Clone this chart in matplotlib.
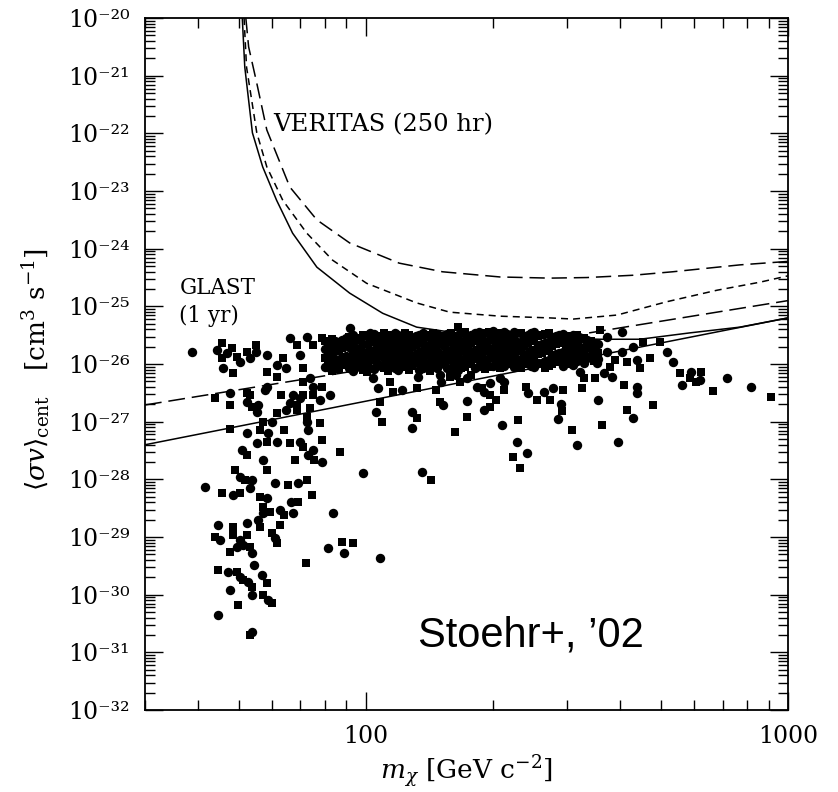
import matplotlib
matplotlib.use("Agg")
import matplotlib.pyplot as plt
import matplotlib.ticker as mticker
import numpy as np

plt.rcParams['font.family'] = 'DejaVu Serif'
plt.rcParams['mathtext.fontset'] = 'dejavuserif'

# --- sensitivity curves: mass [GeV], log10 <sigma v> [cm^3 s^-1] ---
ver_long_m = [52.0, 52.8, 55.2, 58.3, 66.1, 76.6, 91.6, 120, 152, 208, 273, 334, 430, 533, 770, 1000]
ver_long_lsv = [-20.0, -20.5, -21.13, -21.94, -22.93, -23.50, -23.90, -24.25, -24.40, -24.49, -24.51,
                -24.50, -24.46, -24.40, -24.28, -24.22]

ver_short_m = [51.5, 52.2, 55.2, 58.3, 63.6, 72.5, 83.5, 100.5, 132, 158, 208, 273, 310, 394, 516, 679, 859, 1000]
ver_short_lsv = [-20.0, -20.85, -21.99, -22.58, -23.16, -23.73, -24.20, -24.60, -24.94, -25.10, -25.17,
                 -25.20, -25.22, -25.15, -24.92, -24.72, -24.58, -24.47]

ver_solid_m = [51.0, 51.7, 53.9, 57.0, 61.5, 67.1, 76.6, 91.6, 109.7, 132, 160, 208, 273, 359, 446, 585, 769, 1000]
ver_solid_lsv = [-20.0, -20.85, -21.99, -22.58, -23.16, -23.73, -24.32, -24.77, -25.12, -25.36, -25.45,
                 -25.52, -25.55, -25.57, -25.57, -25.46, -25.36, -25.20]

glast_m = [30, 1000]
glast_dash_lsv = [-26.71, -24.90]
glast_solid_lsv = [-27.40, -25.20]

# --- subhalo points: (mass, log10 <sigma v>) ---
band_cols = {
    80.0: [-25.60, -25.74, -25.90, -26.05],
    83.0: [-25.56, -25.70, -25.83, -26.00, -26.12],
    86.3: [-25.62, -25.78, -25.95, -26.08],
    89.6: [-25.55, -25.68, -25.86, -26.02],
    93.1: [-25.50, -25.64, -25.80, -25.97, -26.12],
    96.8: [-25.58, -25.73, -25.90, -26.05],
    100.5: [-25.52, -25.66, -25.84, -26.00, -26.13],
    104.5: [-25.48, -25.62, -25.77, -25.93, -26.08],
    108.5: [-25.55, -25.70, -25.86, -26.03],
    112.8: [-25.50, -25.64, -25.80, -25.96, -26.12],
    117.2: [-25.47, -25.60, -25.75, -25.91, -26.06],
    121.7: [-25.53, -25.68, -25.84, -26.00],
    126.4: [-25.49, -25.63, -25.78, -25.95, -26.10],
    131.4: [-25.52, -25.67, -25.82, -25.99],
    136.5: [-25.46, -25.60, -25.76, -25.92, -26.07],
    141.8: [-25.50, -25.65, -25.81, -25.97, -26.12],
    147.3: [-25.48, -25.62, -25.78, -25.94, -26.06],
    153.0: [-25.52, -25.68, -25.84, -26.00],
    159.0: [-25.46, -25.61, -25.77, -25.93, -26.09],
    165.0: [-25.50, -25.65, -25.80, -25.96, -26.10],
    172.0: [-25.45, -25.58, -25.74, -25.90, -26.05],
    178.0: [-25.49, -25.64, -25.80, -25.97],
    185.0: [-25.44, -25.58, -25.73, -25.89, -26.04],
    192.0: [-25.47, -25.62, -25.78, -25.95, -26.08],
    200.0: [-25.43, -25.57, -25.72, -25.88, -26.03],
    208.0: [-25.46, -25.61, -25.77, -25.93, -26.07],
    216.0: [-25.48, -25.63, -25.79, -25.95],
    224.0: [-25.44, -25.59, -25.74, -25.90, -26.05],
    233.0: [-25.47, -25.62, -25.78, -25.94, -26.06],
    242.0: [-25.49, -25.64, -25.80, -25.97],
    251.0: [-25.45, -25.60, -25.76, -25.92, -26.05],
    261.0: [-25.50, -25.65, -25.81, -25.98],
    271.0: [-25.47, -25.62, -25.77, -25.93, -26.04],
    282.0: [-25.51, -25.66, -25.82, -25.97],
    293.0: [-25.48, -25.63, -25.79, -25.94, -26.03],
    304.0: [-25.52, -25.67, -25.83, -25.98],
    316.0: [-25.50, -25.65, -25.80, -25.95],
    328.0: [-25.55, -25.70, -25.86, -25.99],
    341.0: [-25.60, -25.74, -25.88],
    354.0: [-25.65, -25.80, -25.92],
}

band_cols_b = {
    81.5: [-25.65, -25.82, -25.97],
    84.6: [-25.60, -25.76, -25.91, -26.06],
    88.0: [-25.58, -25.72, -25.88],
    91.3: [-25.53, -25.70, -25.93, -26.07],
    95.0: [-25.55, -25.72, -25.86, -26.02],
    98.6: [-25.50, -25.66, -25.80, -25.96, -26.10],
    102.5: [-25.47, -25.58, -25.75, -25.92, -26.06],
    106.5: [-25.52, -25.67, -25.82, -25.98],
    110.6: [-25.46, -25.60, -25.76, -25.90, -26.07],
    115.0: [-25.54, -25.70, -25.86, -26.02],
    119.4: [-25.50, -25.66, -25.80, -25.97, -26.10],
    124.0: [-25.46, -25.60, -25.74, -25.90, -26.05],
    128.9: [-25.55, -25.71, -25.86, -26.03],
    133.9: [-25.49, -25.64, -25.79, -25.96, -26.11],
    139.1: [-25.53, -25.69, -25.85, -26.01],
    144.5: [-25.46, -25.58, -25.74, -25.90, -26.05],
    150.1: [-25.51, -25.66, -25.82, -25.98],
    156.0: [-25.48, -25.60, -25.75, -25.91, -26.06],
    162.0: [-25.53, -25.69, -25.85, -26.01],
    168.5: [-25.47, -25.62, -25.77, -25.93, -26.07],
    175.0: [-25.52, -25.68, -25.84, -26.00],
    181.5: [-25.46, -25.60, -25.76, -25.92, -26.06],
    188.5: [-25.50, -25.66, -25.82, -25.98],
    196.0: [-25.45, -25.59, -25.74, -25.90, -26.05],
    204.0: [-25.49, -25.65, -25.81, -25.97],
    212.0: [-25.44, -25.58, -25.73, -25.89, -26.04],
    220.0: [-25.51, -25.67, -25.83, -25.99],
    228.5: [-25.47, -25.61, -25.76, -25.92, -26.06],
    237.5: [-25.52, -25.68, -25.84, -26.00],
    246.5: [-25.46, -25.60, -25.75, -25.91, -26.04],
    256.0: [-25.52, -25.67, -25.83, -25.99],
    266.0: [-25.48, -25.63, -25.78, -25.94, -26.06],
    276.5: [-25.53, -25.69, -25.85, -26.00],
    287.5: [-25.49, -25.64, -25.80, -25.95],
    298.5: [-25.54, -25.70, -25.86, -26.00],
    310.0: [-25.50, -25.64, -25.78, -25.92, -26.02],
    322.0: [-25.56, -25.72, -25.88],
    334.5: [-25.58, -25.73, -25.90],
    347.5: [-25.63, -25.78, -25.94],
}

pts_left = [
    (38.7, -25.79), (45.6, -25.64), (44.4, -25.76), (45.6, -25.90), (46.8, -25.81), (48.1, -25.72),
    (46.0, -26.07), (48.4, -26.16), (50.3, -25.97), (49.5, -25.88), (53.1, -25.90), (55.1, -25.67),
    (55.1, -25.79), (52.2, -25.79), (58.4, -25.84), (58.4, -26.14), (61.5, -26.02), (61.8, -26.22),
    (64.9, -26.07), (63.6, -25.90), (66.0, -25.55), (68.6, -25.67), (69.8, -25.84), (71.0, -26.07),
    (73.7, -26.24), (75.0, -25.67), (72.5, -25.53), (78.7, -25.55), (82.2, -26.07), (78.7, -26.40),
    (82.2, -26.54), (71.0, -26.54), (67.1, -26.54), (68.6, -26.71), (58.4, -26.40), (53.1, -26.54),
    (55.7, -26.71), (73.7, -26.76), (72.5, -27.01), (71.0, -26.31), (91.6, -25.38), (108, -26.66),
    (150, -26.19),
]

pts_lower_left = [
    (43.9, -26.59), (47.6, -26.50), (47.6, -26.71), (52.2, -26.66), (53.7, -26.75), (55.4, -26.83),
    (52.2, -26.50), (57.6, -26.45), (63.1, -26.54), (66.0, -26.68), (61.5, -26.85), (64.9, -26.80),
    (68.6, -26.80), (69.8, -26.59), (75.0, -26.54), (77.8, -26.62), (72.5, -26.92), (75.0, -26.40),
    (57.0, -27.01), (59.9, -27.01), (47.6, -27.13), (52.2, -27.20), (56.1, -27.14), (58.6, -27.20),
    (64.2, -27.14), (72.9, -27.14), (77.8, -27.02), (55.4, -27.37), (58.4, -27.35), (61.5, -27.35),
    (66.0, -27.37), (69.8, -27.35), (71.0, -27.44), (75.0, -27.49), (78.7, -27.32), (50.9, -27.49),
    (52.2, -27.58), (57.0, -27.66), (67.9, -27.66), (72.9, -27.58), (75.4, -27.66), (78.7, -27.70),
    (86.8, -27.53), (98.4, -27.89), (48.9, -27.84), (50.3, -27.96), (51.7, -28.01), (53.7, -28.01),
    (58.4, -27.84), (60.9, -28.06), (65.3, -28.10), (69.0, -28.06), (72.5, -28.01), (41.6, -28.13),
    (45.6, -28.24), (48.4, -28.27), (50.3, -28.24), (53.1, -28.15), (56.1, -28.31), (58.4, -28.32),
    (57.0, -28.48), (57.0, -28.58), (59.2, -28.57), (62.5, -28.53), (64.2, -28.62), (66.7, -28.39),
    (69.0, -28.39), (67.1, -28.58), (74.4, -28.27), (83.5, -28.58), (62.5, -28.79), (55.7, -28.70),
    (56.1, -28.83), (44.6, -28.79), (48.4, -28.83), (52.2, -28.76), (43.9, -29.00), (45.1, -29.05),
    (48.4, -28.96), (50.3, -29.05), (52.2, -28.96), (49.5, -29.17), (47.6, -29.26), (51.3, -29.14),
    (53.1, -29.17), (53.7, -29.28), (59.9, -28.93), (60.9, -29.02), (61.8, -29.10), (81.3, -29.19),
    (87.7, -29.09), (89.0, -29.28), (93.1, -29.10), (107.9, -29.36), (72.1, -29.45), (54.5, -29.49),
    (44.6, -29.57), (47.1, -29.61), (49.5, -29.61), (50.3, -29.69), (51.3, -29.75), (52.5, -29.78),
    (53.7, -29.87), (56.8, -29.66), (58.4, -29.80), (53.7, -30.01), (57.0, -30.01), (58.6, -30.09),
    (59.9, -30.14), (47.6, -29.92), (49.8, -30.18), (44.6, -30.35), (53.1, -30.70), (53.7, -30.65),
]

pts_mid = [
    (165, -25.36), (104, -26.24), (114, -26.31), (107, -26.42), (116, -26.49), (122, -26.45),
    (132, -26.42), (133, -26.22), (147, -26.45), (151, -26.31), (158, -26.22), (164, -26.19),
    (167, -26.31), (174, -26.24), (178, -26.19), (183, -26.40), (189, -26.42), (191, -26.49),
    (197, -26.54), (197, -26.33), (204, -26.62), (208, -26.24), (213, -26.45), (213, -26.31),
    (240, -26.40), (242, -26.50), (254, -26.62), (265, -26.49), (273, -26.62), (277, -26.42),
    (293, -26.45), (321, -26.14), (328, -26.24), (106, -26.83), (109, -27.01),
    (129, -26.83), (132, -26.94), (129, -27.11), (150, -26.66), (152, -26.71), (163, -27.18),
    (174, -26.64), (174, -26.92), (191, -26.80), (197, -26.74), (210, -27.06), (229, -26.97),
    (228, -27.35), (223, -27.61), (241, -27.54), (232, -27.80), (286, -26.95), (292, -26.82),
    (290, -26.70), (308, -27.14), (316, -27.40), (325, -26.42), (136, -27.87), (143, -28.01),
]

pts_right = [
    (354, -26.62), (362, -27.06), (395, -27.35), (415, -26.80), (430, -26.94), (478, -26.71),
    (439, -26.50), (664, -26.47), (816, -26.39), (910, -26.57),
    (405, -25.44), (358, -25.41), (373, -25.53), (453, -25.62), (429, -25.71), (497, -25.62),
    (516, -25.79), (471, -25.90), (533, -25.96), (554, -26.16), (588, -26.14), (621, -26.14),
    (618, -26.28), (585, -26.24), (560, -26.36), (607, -26.31), (716, -26.24), (390, -25.93),
    (405, -25.79), (415, -25.96), (439, -25.93), (446, -26.07), (384, -26.22), (410, -26.36),
    (439, -26.40), (350, -26.24), (367, -26.16), (378, -26.05), (352, -25.98), (344, -25.64),
    (373, -25.79),
]

# gather all points
all_pts = [(m, v) for m, vs in band_cols.items() for v in vs]
all_pts += [(m, v) for m, vs in band_cols_b.items() for v in vs]
all_pts += pts_left + pts_lower_left + pts_mid + pts_right
pm = np.array([p[0] for p in all_pts])
pv = 10.0 ** np.array([p[1] for p in all_pts])

fig = plt.figure(figsize=(8.38, 7.92), dpi=100)
ax = fig.add_axes([0.1730, 0.1035, 0.7673, 0.8737])
ax.set_xscale('log')
ax.set_yscale('log')

lw = 1.1
ax.plot(ver_long_m, 10.0 ** np.array(ver_long_lsv), color='k', lw=lw, dashes=(10, 4.5))
ax.plot(ver_short_m, 10.0 ** np.array(ver_short_lsv), color='k', lw=lw, dashes=(4.6, 3.3))
ax.plot(ver_solid_m, 10.0 ** np.array(ver_solid_lsv), color='k', lw=lw)
ax.plot(glast_m, 10.0 ** np.array(glast_dash_lsv), color='k', lw=lw, dashes=(11, 4.5))
ax.plot(glast_m, 10.0 ** np.array(glast_solid_lsv), color='k', lw=lw)

sq = np.arange(len(pm)) % 2 == 0
ax.scatter(pm[sq], pv[sq], marker='s', s=38, c='k', linewidths=0, zorder=3)
ax.scatter(pm[~sq], pv[~sq], marker='o', s=46, c='k', linewidths=0, zorder=3)

ax.set_xlim(30, 1000)
ax.set_ylim(1e-32, 1e-20)

sup = str.maketrans('-0123456789', '\u207b\u2070\u00b9\u00b2\u00b3\u2074\u2075\u2076\u2077\u2078\u2079')


def pow_label(v, pos):
    return '10' + str(int(round(np.log10(v)))).translate(sup)


ax.xaxis.set_major_locator(mticker.FixedLocator([100, 1000]))
ax.xaxis.set_major_formatter(mticker.FuncFormatter(lambda v, p: f"{v:g}"))
ax.xaxis.set_minor_locator(mticker.LogLocator(base=10, subs=np.arange(2, 10), numticks=20))
ax.xaxis.set_minor_formatter(mticker.NullFormatter())
ax.yaxis.set_major_locator(mticker.LogLocator(base=10, numticks=30))
ax.yaxis.set_major_formatter(mticker.FuncFormatter(pow_label))
ax.yaxis.set_minor_locator(mticker.LogLocator(base=10, subs=np.arange(2, 10), numticks=30))
ax.yaxis.set_minor_formatter(mticker.NullFormatter())

ax.tick_params(which='both', direction='in', top=True, right=True, width=1.0, labelsize=17)
ax.tick_params(which='major', length=13, pad=11)
ax.tick_params(which='minor', length=7)
for sp in ax.spines.values():
    sp.set_linewidth(1.3)

ax.text(60.5, 10 ** -21.85, 'VERITAS (250 hr)', fontsize=17.5, ha='left', va='center')
ax.text(36.2, 10 ** -24.68, 'GLAST', fontsize=15.5, ha='left', va='center')
ax.text(36.2, 10 ** -25.17, '(1 yr)', fontsize=15.5, ha='left', va='center')
ax.text(133, 10 ** -30.7, 'Stoehr+, \u201902', fontsize=30, family='Liberation Sans',
        ha='left', va='center')

fig.text(466 / 838, 1 - 772 / 792, r'$m_\chi$ [GeV c$^{-2}$]', fontsize=19, ha='center', va='center')
fig.text(36 / 838, 1 - 369 / 792, r'$\langle\sigma v\rangle_{\rm cent}$   [cm$^3$ s$^{-1}$]',
         fontsize=19, rotation=90, ha='center', va='center')

fig.savefig('out.png', dpi=100)
